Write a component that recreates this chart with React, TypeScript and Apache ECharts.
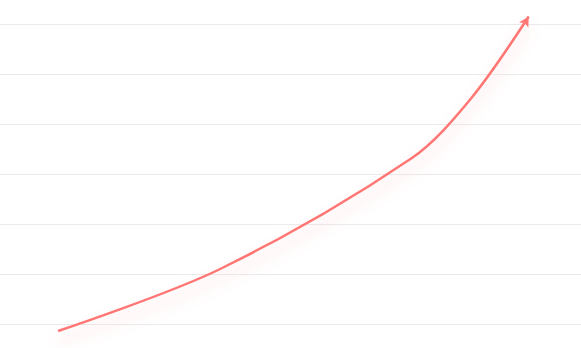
import React, { useEffect, useRef } from "react";
import * as echarts from "echarts";

const xValues = [1.0, 3.79, 7.09, 8.1, 9.1];
const yValues = [-0.14, 1.1, 3.32, 4.5, 6.15];
const yTicks = [0, 1, 2, 3, 4, 5, 6];

const LINE_COLOR = "#ff7674";

export default function App() {
  const ref = useRef<HTMLDivElement>(null);
  useEffect(() => {
    if (!ref.current) return;
    const chart = echarts.init(ref.current, undefined, { renderer: "svg" });
    const n = xValues.length;
    const data = xValues.map((x, i) =>
      i === n - 1
        ? {
            value: [x, yValues[i]],
            symbol: "arrow",
            symbolSize: [8, 10],
            symbolRotate: -30,
            itemStyle: { color: LINE_COLOR },
          }
        : { value: [x, yValues[i]], symbol: "none" }
    );
    chart.setOption({
      animation: false,
      grid: { left: 0, right: 0, top: 24, bottom: 24 },
      xAxis: {
        type: "value",
        min: 0,
        max: 10,
        show: false,
      },
      yAxis: {
        type: "value",
        min: yTicks[0],
        max: yTicks[yTicks.length - 1],
        interval: 1,
        axisLine: { show: false },
        axisTick: { show: false },
        axisLabel: { show: false },
        splitLine: { lineStyle: { color: "#ebebeb", width: 1 } },
      },
      series: [
        {
          type: "line",
          data,
          smooth: 0.32,
          clip: false,
          showSymbol: true,
          lineStyle: {
            color: LINE_COLOR,
            width: 2.5,
            shadowColor: "rgba(255,110,110,0.32)",
            shadowBlur: 14,
            shadowOffsetY: 10,
          },
          itemStyle: { color: LINE_COLOR },
        },
      ],
    });
    return () => chart.dispose();
  }, []);
  return (
    <div
      ref={ref}
      style={{ position: "absolute", left: 0, top: 0, width: 581, height: 348 }}
    />
  );
}
